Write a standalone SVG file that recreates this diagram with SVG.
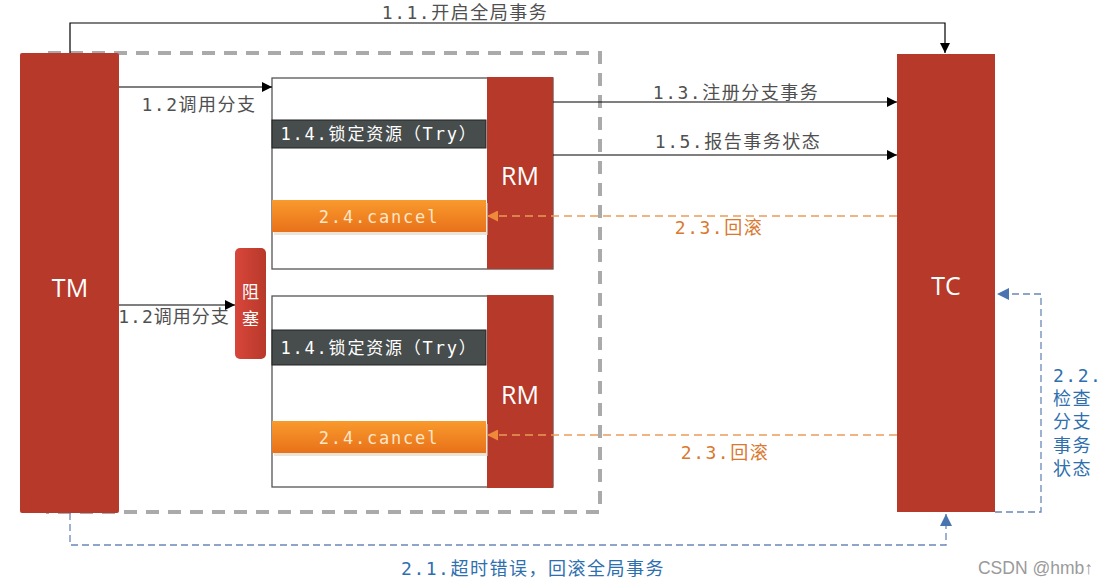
<svg xmlns="http://www.w3.org/2000/svg" width="1110" height="586" viewBox="0 0 1110 586">
<style>
.red{fill:#b7392a}
.lbl{font-family:"DejaVu Sans Mono","Noto Sans CJK SC",monospace;font-size:18px;letter-spacing:1.5px;fill:#505050;text-anchor:middle;dominant-baseline:central}
.bar{font-family:"DejaVu Sans Mono","Noto Sans CJK SC",monospace;font-size:17px;letter-spacing:1.8px;text-anchor:middle;dominant-baseline:central}
.big{font-family:"Open Sans","Liberation Sans",sans-serif;font-size:25px;fill:#fff;text-anchor:middle;dominant-baseline:central}
.blk{font-family:"Noto Sans CJK SC",sans-serif;font-size:17px;fill:#fff;text-anchor:middle;dominant-baseline:central}
.blue{fill:#2e6fae}
.orange{fill:#d9782e}
.solid{fill:none;stroke:#000;stroke-width:1.2}
.odash{fill:none;stroke:#ec9a5a;stroke-width:1.3;stroke-dasharray:8 5}
.bdash{fill:none;stroke:#6a88b8;stroke-width:1.3;stroke-dasharray:7 4}
</style>
<defs>
<marker id="ab" markerWidth="10" markerHeight="10" refX="10" refY="5" orient="auto" markerUnits="userSpaceOnUse"><path d="M0,0L10,5L0,10z" fill="#000"/></marker>
<marker id="ao" markerWidth="11" markerHeight="11" refX="11" refY="5.5" orient="auto" markerUnits="userSpaceOnUse"><path d="M0,0L11,5.5L0,11z" fill="#ee8a3a"/></marker>
<marker id="abl" markerWidth="12" markerHeight="12" refX="12" refY="6" orient="auto" markerUnits="userSpaceOnUse"><path d="M0,0L12,6L0,12z" fill="#4a74b0"/></marker>
<linearGradient id="og" x1="0" y1="0" x2="0" y2="1"><stop offset="0" stop-color="#f99a2c"/><stop offset="1" stop-color="#e8711a"/></linearGradient>
<linearGradient id="rg" x1="0" y1="0" x2="1" y2="0"><stop offset="0" stop-color="#d8463a"/><stop offset="1" stop-color="#b7392a"/></linearGradient>
</defs>

<g id="scope">
<rect x="48" y="53" width="552" height="459" fill="none" stroke="#aaaaaa" stroke-width="4" stroke-dasharray="13 9"/>
</g>

<g id="TM">
<rect class="red" x="20" y="53" width="99" height="460" rx="2"/>
<text class="big" x="70" y="287">TM</text>
</g>

<g id="TC">
<rect class="red" x="897" y="54" width="98" height="458"/>
<text class="big" x="946" y="285">TC</text>
</g>

<g id="block">
<rect x="235" y="248" width="31" height="111" rx="5" fill="url(#rg)"/>
<text class="blk" x="250.5" y="290">阻</text>
<text class="blk" x="250.5" y="317">塞</text>
</g>

<g id="branch1">
<rect x="272" y="78" width="281" height="191" fill="#fff" stroke="#555" stroke-width="1.3"/>
<rect class="red" x="487" y="77" width="66" height="192"/>
<text class="big" x="520" y="175">RM</text>
<rect x="272" y="120" width="214" height="28" fill="#474c4c" stroke="#222" stroke-width="1"/>
<text class="bar" x="379" y="134" fill="#fff">1.4.锁定资源（Try）</text>
<rect x="274" y="203" width="214" height="32" fill="#e0d0c0" opacity="0.6"/>
<rect x="272" y="200" width="214" height="32" fill="url(#og)"/>
<text class="bar" x="379" y="217" fill="#fde6c8">2.4.cancel</text>
</g>

<g id="branch2">
<rect x="272" y="296" width="281" height="191" fill="#fff" stroke="#555" stroke-width="1.3"/>
<rect class="red" x="487" y="295" width="66" height="193"/>
<text class="big" x="520" y="394">RM</text>
<rect x="272" y="330" width="214" height="35" fill="#474c4c" stroke="#222" stroke-width="1"/>
<text class="bar" x="379" y="348" fill="#fff">1.4.锁定资源（Try）</text>
<rect x="274" y="424" width="214" height="32" fill="#e0d0c0" opacity="0.6"/>
<rect x="272" y="421" width="214" height="32" fill="url(#og)"/>
<text class="bar" x="379" y="438" fill="#fde6c8">2.4.cancel</text>
</g>

<g id="connectors">
<polyline class="solid" points="70,53 70,23 945,23 945,53" marker-end="url(#ab)"/>
<line class="solid" x1="119" y1="87" x2="272" y2="87" marker-end="url(#ab)"/>
<line class="solid" x1="119" y1="305" x2="235" y2="305" marker-end="url(#ab)"/>
<line class="solid" x1="553" y1="102" x2="897" y2="102" marker-end="url(#ab)"/>
<line class="solid" x1="553" y1="155" x2="897" y2="155" marker-end="url(#ab)"/>
<line class="odash" x1="897" y1="216" x2="487" y2="216" marker-end="url(#ao)"/>
<line class="odash" x1="897" y1="435" x2="487" y2="435" marker-end="url(#ao)"/>
<polyline class="bdash" points="995,512 1041,512 1041,294 997,294" marker-end="url(#abl)"/>
<polyline class="bdash" points="70,513 70,545 946,545 946,514" marker-end="url(#abl)"/>
<text class="lbl" x="199" y="104">1.2调用分支</text>
<text class="lbl" x="174" y="316" style="letter-spacing:1px">1.2调用分支</text>
<text class="lbl" x="465" y="12">1.1.开启全局事务</text>
<text class="lbl" x="736" y="92">1.3.注册分支事务</text>
<text class="lbl" x="738" y="141">1.5.报告事务状态</text>
<text class="lbl orange" x="719" y="227">2.3.回滚</text>
<text class="lbl orange" x="725" y="452">2.3.回滚</text>
<text class="lbl blue" x="533" y="568">2.1.超时错误，回滚全局事务</text>
<g class="lbl blue" style="text-anchor:start">
<text x="1053" y="375">2.2.</text>
<text x="1053" y="398">检查</text>
<text x="1053" y="421">分支</text>
<text x="1053" y="445">事务</text>
<text x="1053" y="468">状态</text>
</g>
</g>

<text x="1093" y="568" font-family="Liberation Sans,Arial,sans-serif" font-size="17.5" fill="#9a9a9a" text-anchor="end" dominant-baseline="central">CSDN @hmb↑</text>
</svg>
